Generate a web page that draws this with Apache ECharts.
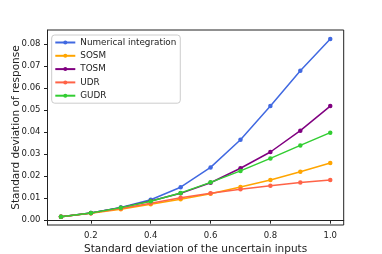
<!DOCTYPE html>
<html><head><meta charset="utf-8">
<script src="https://cdn.jsdelivr.net/npm/echarts@6/dist/echarts.min.js"></script>
<style>html,body{margin:0;padding:0;background:#fff;}#c{width:382px;height:254px;}</style>
</head><body><div id="c"></div>
<script>
var xs = [0.1, 0.2, 0.3, 0.4, 0.5, 0.6, 0.7, 0.8, 0.9, 1.0];
var numInt = [0.0016, 0.0033, 0.0058, 0.0093, 0.0150, 0.0240, 0.0366, 0.0519, 0.0680, 0.0824];
var sosm = [0.0016, 0.0031, 0.0050, 0.0072, 0.0095, 0.0120, 0.0151, 0.0183, 0.0220, 0.0260];
var tosm = [0.0016, 0.0033, 0.0057, 0.0087, 0.0122, 0.0170, 0.0236, 0.0310, 0.0407, 0.0519];
var udr = [0.0016, 0.0032, 0.0053, 0.0077, 0.0102, 0.0122, 0.0141, 0.0157, 0.0171, 0.0183];
var gudr = [0.0016, 0.0033, 0.0057, 0.0086, 0.0124, 0.0172, 0.0224, 0.0281, 0.0340, 0.0398];
var xTicks = [0.2, 0.4, 0.6, 0.8, 1.0];
var yTicks = [0, 0.01, 0.02, 0.03, 0.04, 0.05, 0.06, 0.07, 0.08];
var names = ['Numerical integration', 'SOSM', 'TOSM', 'UDR', 'GUDR'];
var colors = ['#4169E1', '#FFA500', '#800080', '#FF6347', '#32CD32'];
var values = [numInt, sosm, tosm, udr, gudr];

function pairs(v) { return xs.map(function (x, i) { return [x, v[i]]; }); }
var font = 'DejaVu Sans';
var chart = echarts.init(document.getElementById('c'), null, {renderer: 'canvas'});
chart.setOption({
  animation: false,
  backgroundColor: '#fff',
  grid: {left: 47.5, right: 38.3, top: 30, bottom: 29, show: true, borderColor: '#222', borderWidth: 1,
    containLabel: false, outerBoundsMode: 'none'},
  legend: {
    orient: 'vertical', left: 51.7, top: 35, selectedMode: false,
    backgroundColor: '#fff', borderColor: '#ccc', borderWidth: 1, borderRadius: 3,
    padding: [3, 4, 3, 2.6], itemWidth: 20, itemHeight: 5, itemGap: 4.3,
    textStyle: {fontFamily: font, fontSize: 8.8, color: '#222', lineHeight: 8.5},
    data: names
  },
  xAxis: {
    type: 'value', min: 0.055, max: 1.045,
    name: 'Standard deviation of the uncertain inputs', nameLocation: 'middle', nameGap: 19,
    nameMoveOverlap: false,
    nameTextStyle: {fontFamily: font, fontSize: 10.5, color: '#222'},
    axisLine: {show: true, lineStyle: {color: '#222', width: 1}},
    axisTick: {show: true, inside: false, length: 3.5, lineStyle: {color: '#222'}, customValues: xTicks},
    axisLabel: {fontFamily: font, fontSize: 8.5, color: '#222', margin: 6.5, customValues: xTicks,
      formatter: function (v) { return v.toFixed(1); }},
    splitLine: {show: false}
  },
  yAxis: {
    type: 'value', min: -0.0022, max: 0.0865,
    name: 'Standard deviation of response', nameLocation: 'middle', nameGap: 26,
    nameMoveOverlap: false,
    nameTextStyle: {fontFamily: font, fontSize: 10.5, color: '#222'},
    axisLine: {show: true, lineStyle: {color: '#222', width: 1}},
    axisTick: {show: true, inside: false, length: 3.5, lineStyle: {color: '#222'}, customValues: yTicks},
    axisLabel: {fontFamily: font, fontSize: 8.5, color: '#222', margin: 7, customValues: yTicks,
      formatter: function (v) { return v.toFixed(2); }},
    splitLine: {show: false}
  },
  series: values.map(function (v, i) {
    return {
      name: names[i], type: 'line', data: pairs(v),
      symbol: 'circle', symbolSize: 4.5, showSymbol: true,
      lineStyle: {width: 1.5, color: colors[i]},
      itemStyle: {color: colors[i]},
      z: 2 + i
    };
  })
});
</script></body></html>
